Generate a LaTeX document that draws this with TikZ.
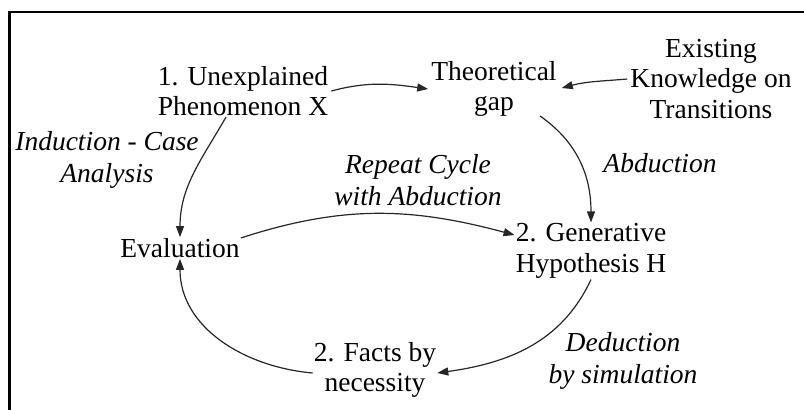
\documentclass[tikz,border=0pt]{standalone}
\usepackage{fontspec}
\setmainfont{Liberation Serif}
\usetikzlibrary{arrows.meta}
\begin{document}
\begin{tikzpicture}[x=1pt,y=-1pt,
  lbl/.style={align=center,inner sep=1pt,font=\fontsize{27.5}{30.5}\selectfont},
  ilbl/.style={lbl,font=\fontsize{27.5}{31.5}\selectfont\itshape},
  flow/.style={-{Triangle[length=11pt,width=8pt]},line width=1.2pt,black!85}]
\useasboundingbox (0,0) rectangle (804,410);
% open frame: top and left edges only
\draw[line width=2.4pt] (804,12) -- (9.5,12) -- (9.5,410);

\node[lbl]  (unexpl) at (243,91)  {1. Unexplained\\Phenomenon X};
\node[lbl]  (theo)   at (494,89)  {Theoretical\\gap};
\node[lbl]  (exist)  at (711,79)  {Existing\\Knowledge on\\Transitions};
\node[ilbl] (induct) at (107,160) {Induction - Case\\Analysis};
\node[ilbl] (repeat) at (418,180) {Repeat Cycle\\with Abduction};
\node[ilbl] (abd)    at (660,163) {Abduction};
\node[lbl]  (eval)   at (180,248) {Evaluation};
\node[lbl]  (gen)    at (591,251) {2. Generative\\Hypothesis H};
\node[lbl]  (facts)  at (375,370) {2. Facts by\\necessity};
\node[ilbl] (ded)    at (623,361) {Deduction\\by simulation};

\draw[flow] ([xshift=2pt]unexpl.east) to[out=15,in=172] ([xshift=-2pt]theo.west);
\draw[flow] ([xshift=-2pt]exist.west) to[out=185,in=15] ([xshift=4pt,yshift=1pt]theo.east);
\draw[flow] ([xshift=-17pt]unexpl.south) to[out=-120,in=90] (eval.north);
\draw[flow] ([xshift=46pt,yshift=2pt]theo.south) to[out=-35,in=90] (gen.north);
\draw[flow] ([yshift=10pt]eval.east) to[out=18,in=165] ([yshift=16pt]gen.west);
\draw[flow] (gen.south) to[out=-115,in=8] ([yshift=-3pt]facts.east);
\draw[flow] ([yshift=-3pt]facts.west) to[out=175,in=-90] (eval.south);
\end{tikzpicture}
\end{document}
